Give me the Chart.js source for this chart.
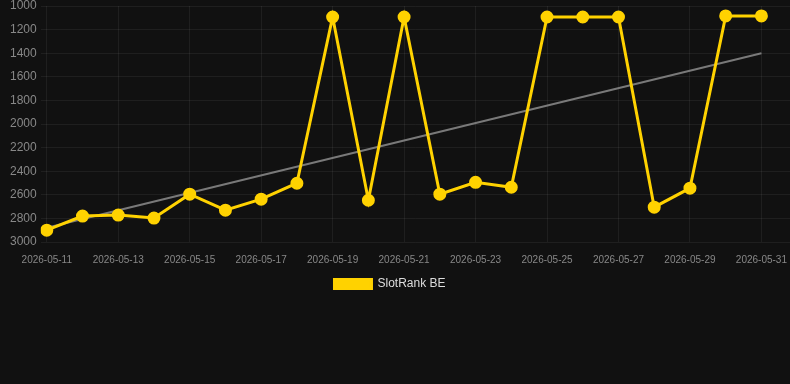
<!DOCTYPE html>
<html>
<head>
<meta charset="utf-8">
<script src="https://cdn.jsdelivr.net/npm/chart.js@4"></script>
<style>
  html, body { margin: 0; padding: 0; background: #111111; overflow: hidden; }
  #wrap { width: 790px; height: 300px; }
</style>
</head>
<body>
<div id="wrap"><canvas id="rankChart"></canvas></div>
<script>
const dates = ["2026-05-11", "2026-05-12", "2026-05-13", "2026-05-14", "2026-05-15", "2026-05-16", "2026-05-17",
    "2026-05-18", "2026-05-19", "2026-05-20", "2026-05-21", "2026-05-22", "2026-05-23", "2026-05-24",
    "2026-05-25", "2026-05-26", "2026-05-27", "2026-05-28", "2026-05-29", "2026-05-30", "2026-05-31"];
const rankBE = [2900, 2780, 2772, 2797, 2595, 2730, 2637, 2502, 1093, 2646, 1093, 2595, 2494, 2536,
    1093, 1093, 1093, 2705, 2544, 1084, 1084];
const trendEnds = [2880, 1400];
const yTicks = [1000, 1200, 1400, 1600, 1800, 2000, 2200, 2400, 2600, 2800, 3000];

// nudge the legend a little to the left, like the original
const legendShift = {
    id: "legendShift",
    afterLayout(chart) {
        if (chart.legend) {
            chart.legend.left -= 8;
            chart.legend.right -= 8;
        }
    },
};

document.addEventListener("DOMContentLoaded", function () {
    const ctx = document.getElementById("rankChart");
    const last = dates.length - 1;

    new Chart(ctx, {
        type: "line",
        data: {
            datasets: [
                {
                    label: "SlotRank BE",
                    data: rankBE.map((v, i) => ({ x: i, y: v })),
                    borderColor: "#ffd200",
                    backgroundColor: "#ffd200",
                    borderWidth: 3,
                    pointRadius: 5,
                    pointHoverRadius: 6,
                    tension: 0,
                },
                {
                    label: "trend",
                    data: [{ x: 0, y: trendEnds[0] }, { x: last, y: trendEnds[1] }],
                    borderColor: "rgba(140,140,140,0.85)",
                    borderWidth: 2,
                    pointRadius: 0,
                    tension: 0,
                },
            ],
        },
        plugins: [legendShift],
        options: {
            responsive: true,
            maintainAspectRatio: false,
            animation: false,
            layout: { autoPadding: false, padding: { left: 6 } },
            plugins: {
                legend: {
                    position: "bottom",
                    labels: {
                        color: "#dddddd",
                        font: { family: "Liberation Sans, Arial", size: 12 },
                        boxWidth: 37,
                        boxHeight: 9,
                        filter: (item) => item.text !== "trend",
                    },
                },
                tooltip: { enabled: false },
            },
            scales: {
                x: {
                    type: "linear",
                    min: -0.17,
                    max: last + 0.8,
                    afterBuildTicks: (axis) => {
                        axis.ticks = dates.map((d, i) => ({ value: i })).filter((t) => t.value % 2 === 0);
                    },
                    afterFit: (axis) => {
                        axis.paddingLeft = 0;
                        axis.paddingRight = 0;
                        axis.height -= 10;
                    },
                    ticks: {
                        color: "#888888",
                        font: { family: "Liberation Sans, Arial", size: 10 },
                        maxRotation: 0,
                        autoSkip: false,
                        padding: 12,
                        callback: (v) => dates[v],
                    },
                    grid: { color: "rgba(255,255,255,0.06)", drawTicks: false },
                    border: { display: false },
                },
                y: {
                    reverse: true,
                    min: yTicks[0],
                    max: yTicks[yTicks.length - 1],
                    afterBuildTicks: (axis) => {
                        axis.ticks = yTicks.map((v) => ({ value: v }));
                    },
                    afterFit: (axis) => {
                        axis.paddingTop = 6;
                        axis.paddingBottom = 0;
                    },
                    ticks: {
                        color: "#888888",
                        font: { family: "Liberation Sans, Arial", size: 12 },
                        padding: 4,
                        callback: (v) => String(v),
                    },
                    grid: { color: "rgba(255,255,255,0.06)", drawTicks: false },
                    border: { display: false },
                },
            },
        },
    });
});
</script>
</body>
</html>
